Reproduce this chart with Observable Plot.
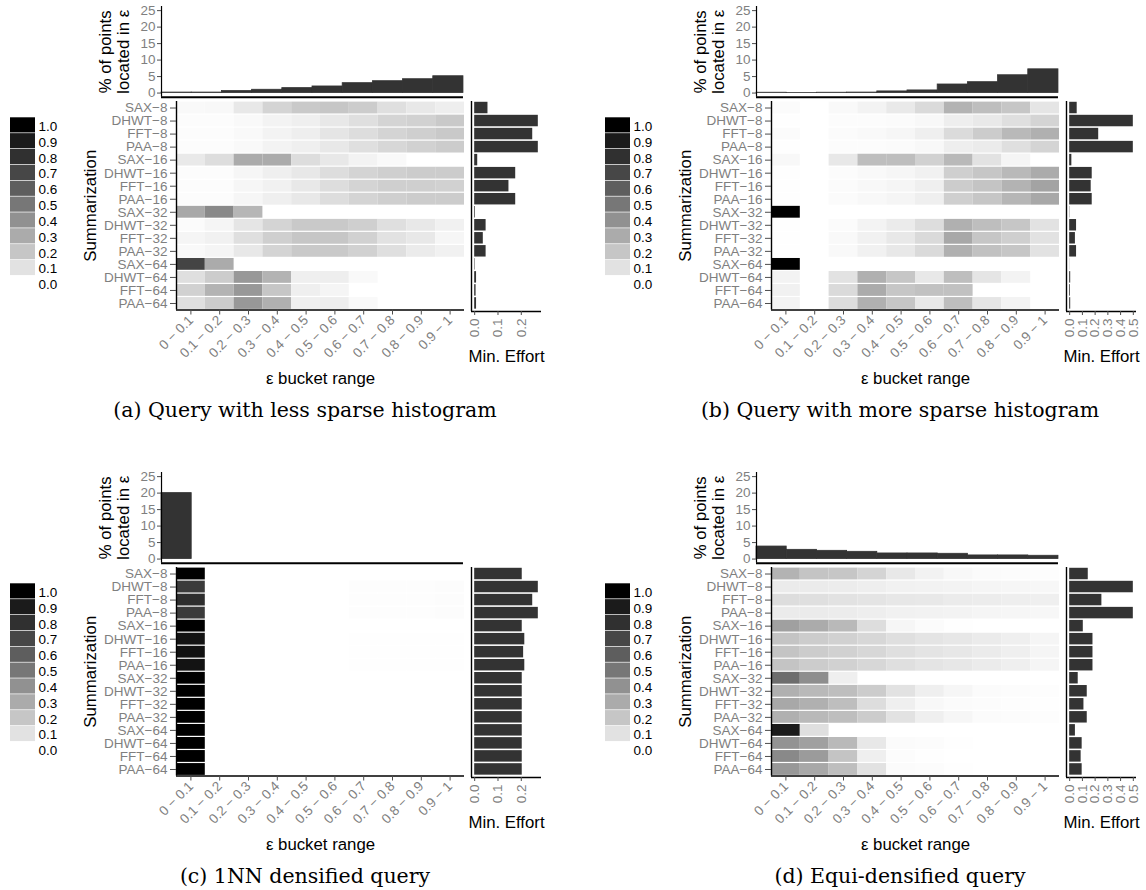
<!DOCTYPE html>
<html>
<head>
<meta charset="utf-8">
<script src="https://cdn.jsdelivr.net/npm/d3@7"></script>
<script src="https://cdn.jsdelivr.net/npm/@observablehq/plot@0.6"></script>
<style>
  html, body { margin: 0; padding: 0; background: #fff; }
  #root { position: relative; width: 1146px; height: 890px; overflow: hidden; background: #fff;
          font-family: "Liberation Sans", Arial, Helvetica, sans-serif; }
  .cap { position: absolute; font-family: "DejaVu Serif", serif; font-size: 20.5px; line-height: 20px;
         white-space: nowrap; transform: translateX(-50%); color: #000; }
</style>
</head>
<body>
<div id="root"></div>
<script>
// ---------- categories / tick labels ----------
const summarizations = ["SAX−8","DHWT−8","FFT−8","PAA−8","SAX−16","DHWT−16","FFT−16","PAA−16",
                        "SAX−32","DHWT−32","FFT−32","PAA−32","SAX−64","DHWT−64","FFT−64","PAA−64"];
const buckets = ["0 − 0.1","0.1 − 0.2","0.2 − 0.3","0.3 − 0.4","0.4 − 0.5",
                 "0.5 − 0.6","0.6 − 0.7","0.7 − 0.8","0.8 − 0.9","0.9 − 1"];
const legendBreaks = [1.0,0.9,0.8,0.7,0.6,0.5,0.4,0.3,0.2,0.1,0.0];
const histTicks = [0,5,10,15,20,25];
const effortTicksSmall = [0,0.1,0.2];
const effortTicksLarge = [0,0.1,0.2,0.3,0.4,0.5];
const captions = ["(a) Query with less sparse histogram","(b) Query with more sparse histogram",
                  "(c) 1NN densified query","(d) Equi-densified query"];
const histTitle = "% of points\nlocated in ε";

// ---------- (a) Query with less sparse histogram ----------
const heatA = [
  [0.02,0.025,0.08,0.15,0.19,0.20,0.18,0.11,0.08,0.06],
  [0.01,0.01,0.02,0.04,0.055,0.08,0.11,0.15,0.16,0.19],
  [0.01,0.01,0.02,0.04,0.06,0.09,0.12,0.15,0.17,0.19],
  [0.01,0.01,0.02,0.04,0.055,0.08,0.11,0.14,0.16,0.18],
  [0.075,0.12,0.30,0.30,0.12,0.08,0.04,0.02,0,0],
  [0.01,0.01,0.03,0.055,0.08,0.12,0.15,0.17,0.18,0.18],
  [0.01,0.01,0.03,0.05,0.08,0.12,0.15,0.17,0.17,0.16],
  [0.01,0.01,0.03,0.055,0.08,0.12,0.15,0.17,0.18,0.18],
  [0.31,0.43,0.26,0,0,0,0,0,0,0],
  [0.015,0.035,0.09,0.15,0.19,0.19,0.17,0.11,0.08,0.05],
  [0.035,0.05,0.11,0.17,0.20,0.20,0.16,0.10,0.08,0.03],
  [0.02,0.035,0.08,0.15,0.19,0.19,0.16,0.11,0.07,0.05],
  [0.71,0.30,0,0,0,0,0,0,0,0],
  [0.11,0.18,0.37,0.27,0.055,0.06,0.02,0,0,0],
  [0.16,0.27,0.37,0.20,0.055,0.035,0,0,0,0],
  [0.11,0.18,0.37,0.28,0.055,0.06,0.02,0,0,0]
];
const histA = [0.15,0.15,0.6,1.0,1.5,2.0,3.0,3.6,4.2,5.1];
const effortA = [0.057,0.273,0.249,0.273,0.013,0.176,0.147,0.176,0.003,0.049,0.037,0.049,0.002,0.008,0.006,0.008];

// ---------- (b) Query with more sparse histogram ----------
const heatB = [
  [0.015,0,0.02,0.04,0.075,0.13,0.27,0.23,0.20,0.09],
  [0.005,0,0.01,0.01,0.015,0.025,0.06,0.075,0.11,0.15],
  [0.015,0,0.015,0.02,0.03,0.055,0.125,0.18,0.25,0.28],
  [0.005,0,0.01,0.01,0.015,0.025,0.06,0.07,0.11,0.15],
  [0.025,0,0.08,0.23,0.23,0.16,0.25,0.10,0.035,0],
  [0.005,0,0.01,0.02,0.03,0.05,0.17,0.20,0.25,0.30],
  [0.005,0,0.015,0.025,0.035,0.055,0.18,0.21,0.27,0.33],
  [0.005,0,0.015,0.025,0.035,0.055,0.17,0.20,0.26,0.31],
  [1,0,0,0,0,0,0,0,0,0],
  [0.005,0,0.015,0.04,0.07,0.12,0.28,0.23,0.20,0.10],
  [0.005,0,0.02,0.05,0.08,0.13,0.31,0.20,0.17,0.10],
  [0.005,0,0.02,0.05,0.08,0.13,0.28,0.22,0.20,0.10],
  [1,0,0,0,0,0,0,0,0,0],
  [0.04,0,0.10,0.28,0.20,0.08,0.23,0.09,0.04,0],
  [0.05,0,0.13,0.30,0.20,0.22,0.22,0,0,0],
  [0.04,0,0.12,0.28,0.20,0.08,0.23,0.09,0.04,0]
];
const histB = [0.1,0.05,0.1,0.15,0.5,0.8,2.6,3.3,5.4,7.2];
const effortB = [0.059,0.5,0.228,0.5,0.017,0.177,0.169,0.177,0.002,0.054,0.045,0.054,0.001,0.008,0.006,0.008];

// ---------- (c) 1NN densified query ----------
const heatC = [
  [1,0,0,0,0,0,0,0,0,0],
  [0.75,0,0,0,0,0,0.006,0.006,0.006,0.012],
  [0.81,0,0,0,0,0,0.006,0.006,0.006,0.012],
  [0.75,0,0,0,0,0,0.006,0.006,0.006,0.012],
  [1,0,0,0,0,0,0,0,0,0],
  [0.94,0,0,0,0,0,0.005,0.005,0.005,0.005],
  [0.95,0,0,0,0,0,0.005,0.005,0.005,0.005],
  [0.94,0,0,0,0,0,0.005,0.005,0.005,0.005],
  [1,0,0,0,0,0,0,0,0,0],
  [1,0,0,0,0,0,0,0,0,0],
  [1,0,0,0,0,0,0,0,0,0],
  [1,0,0,0,0,0,0,0,0,0],
  [1,0,0,0,0,0,0,0,0,0],
  [1,0,0,0,0,0,0,0,0,0],
  [1,0,0,0,0,0,0,0,0,0],
  [1,0,0,0,0,0,0,0,0,0]
];
const histC = [20,0,0,0,0,0,0,0,0,0];
const effortC = [0.204,0.273,0.249,0.273,0.204,0.215,0.21,0.215,0.204,0.204,0.204,0.204,0.204,0.204,0.204,0.204];

// ---------- (d) Equi-densified query ----------
const heatD = [
  [0.27,0.21,0.20,0.15,0.08,0.045,0.025,0.015,0.01,0.008],
  [0.07,0.068,0.065,0.06,0.05,0.045,0.04,0.035,0.03,0.028],
  [0.12,0.11,0.10,0.095,0.085,0.08,0.07,0.065,0.06,0.055],
  [0.07,0.068,0.065,0.06,0.05,0.045,0.04,0.035,0.03,0.028],
  [0.34,0.30,0.25,0.12,0.03,0.015,0.005,0,0,0],
  [0.21,0.18,0.16,0.14,0.11,0.095,0.085,0.07,0.055,0.035],
  [0.21,0.18,0.16,0.14,0.11,0.095,0.085,0.07,0.055,0.035],
  [0.21,0.18,0.16,0.14,0.11,0.095,0.085,0.07,0.055,0.035],
  [0.54,0.41,0.055,0,0,0,0,0,0,0],
  [0.28,0.25,0.23,0.18,0.10,0.055,0.03,0.015,0.01,0.008],
  [0.31,0.28,0.23,0.12,0.055,0.025,0.015,0.01,0.008,0.005],
  [0.28,0.25,0.23,0.18,0.10,0.055,0.03,0.015,0.01,0.008],
  [0.90,0.11,0,0,0,0,0,0,0,0],
  [0.39,0.34,0.25,0.08,0.015,0.01,0.005,0,0,0],
  [0.43,0.36,0.21,0.055,0.01,0.005,0,0,0,0],
  [0.37,0.31,0.23,0.10,0.015,0.01,0.005,0,0,0]
];
const histD = [3.8,2.8,2.5,2.2,1.7,1.7,1.6,1.1,1.1,1.0];
const effortD = [0.146,0.5,0.253,0.5,0.107,0.183,0.183,0.183,0.067,0.138,0.112,0.138,0.045,0.098,0.09,0.098];

// ---------- drawing ----------
const root = document.getElementById("root");
const FONT = "'Liberation Sans', Arial, Helvetica, sans-serif";
const GRAY = "#7f7f7f";
const TICK = "#4d4d4d";
const BAR = "#333333";
const TICKFS = 13.5;
const TITLEFS = 16.8;
const colorScale = {type: "linear", domain: [0, 1], range: ["#ffffff", "#000000"], interpolate: "lab"};

function put(svg, left, top) {
  svg.style.position = "absolute";
  svg.style.left = left + "px";
  svg.style.top = top + "px";
  svg.style.background = "none";
  svg.style.maxWidth = "none";
  svg.style.overflow = "visible";
  svg.style.fontFamily = FONT;
  root.appendChild(svg);
}

function histChart(vals) {
  const data = vals.map((v, i) => ({i, v}));
  return Plot.plot({
    width: 404, height: 98.7, marginLeft: 100, marginRight: 2, marginTop: 6, marginBottom: 2,
    x: {domain: [0, 10], axis: null},
    y: {domain: [-1.25, 26.25]},
    marks: [
      Plot.rectY(data, {x1: "i", x2: d => d.i + 1, y1: 0, y2: "v", fill: BAR, stroke: BAR, strokeWidth: 0.8}),
      Plot.ruleX([0], {stroke: "#000", strokeWidth: 1.2}),
      Plot.ruleY([-1.25], {stroke: "#000", strokeWidth: 2}),
      Plot.axisY(histTicks, {tickSize: 4, tickPadding: 2, fontSize: TICKFS, stroke: TICK, fill: GRAY, label: null}),
      Plot.text([histTitle], {text: d => d, frameAnchor: "left", dx: -47, rotate: -90,
                              textAnchor: "middle", lineAnchor: "middle",
                              fontSize: TITLEFS, lineHeight: 1.08, fill: "#000"})
    ]
  });
}

function heatChart(mat) {
  const cells = [];
  mat.forEach((row, r) => row.forEach((v, c) => { if (v > 0) cells.push({r, c, v}); }));
  const rowTicks = summarizations.map((_, r) => r + 0.5);
  const colTicks = buckets.map((_, c) => c + 0.5);
  return Plot.plot({
    width: 398, height: 318.5, marginLeft: 100, marginRight: 10, marginTop: 10, marginBottom: 100,
    x: {domain: [0, 10]},
    y: {domain: [16, 0]},
    color: colorScale,
    marks: [
      Plot.rect(cells, {x1: "c", x2: d => d.c + 1, y1: "r", y2: d => d.r + 1, fill: "v",
                        insetTop: 0.6, insetBottom: 0.6}),
      Plot.ruleX([0], {stroke: "#000", strokeWidth: 1.4}),
      Plot.ruleY([16], {stroke: "#000", strokeWidth: 1.4}),
      Plot.axisY(rowTicks, {tickFormat: d => summarizations[Math.floor(d)], tickSize: 6, tickPadding: 3,
                            fontSize: TICKFS, stroke: TICK, fill: GRAY, label: null}),
      Plot.axisX(colTicks, {tickFormat: d => buckets[Math.floor(d)], tickSize: 5, tickPadding: 3,
                            tickRotate: -45, fontSize: TICKFS, stroke: TICK, fill: GRAY, label: null}),
      Plot.text(["Summarization"], {text: d => d, frameAnchor: "left", dx: -86, rotate: -90,
                                    textAnchor: "middle", lineAnchor: "middle",
                                    fontSize: TITLEFS, fill: "#000"}),
      Plot.text(["ε bucket range"], {text: d => d, frameAnchor: "bottom", dy: 68.5,
                                     textAnchor: "middle", lineAnchor: "middle",
                                     fontSize: TITLEFS, fill: "#000"})
    ]
  });
}

function effortChart(vals, ticks) {
  const max = d3.max(vals);
  const lo = -0.05 * max, hi = 1.05 * max;
  const data = vals.map((v, r) => ({r, v}));
  return Plot.plot({
    width: 90, height: 280, marginLeft: 10, marginRight: 10, marginTop: 10, marginBottom: 60,
    x: {domain: [lo, hi]},
    y: {domain: [16.12, 0], axis: null},
    marks: [
      Plot.rect(data, {x1: 0, x2: "v", y1: d => d.r + 0.06, y2: d => d.r + 0.94, fill: BAR}),
      Plot.ruleX([lo], {stroke: "#000", strokeWidth: 1.4}),
      Plot.ruleY([16.12], {stroke: "#000", strokeWidth: 1.4}),
      Plot.axisX(ticks, {tickFormat: d3.format(".1f"), tickSize: 4, tickPadding: 3, tickRotate: -90,
                         fontSize: TICKFS, stroke: TICK, fill: GRAY, label: null}),
      Plot.text(["Min. Effort"], {text: d => d, frameAnchor: "bottom", dy: 45.5,
                                  textAnchor: "middle", lineAnchor: "middle",
                                  fontSize: TITLEFS, fill: "#000"})
    ]
  });
}

function legendChart() {
  const data = legendBreaks.map((b, i) => ({i, b}));
  return Plot.plot({
    width: 75, height: 186.65, marginLeft: 10, marginRight: 40, marginTop: 7.3, marginBottom: 5,
    x: {domain: [0, 1], axis: null},
    y: {domain: [11, 0], axis: null},
    color: colorScale,
    marks: [
      Plot.rect(data, {x1: 0, x2: 1, y1: "i", y2: d => d.i + 1, fill: "b", insetBottom: 0.7}),
      Plot.text(data, {x: 1, y: d => d.i + 0.55, text: d => d.b.toFixed(1), textAnchor: "start",
                       dx: 3, fontSize: TICKFS, fill: "#000"})
    ]
  });
}

function panel(ox, oy, heat, hist, effort, ticks, caption) {
  put(legendChart(), ox, oy + 110);
  put(histChart(hist), ox + 61, oy);
  put(heatChart(heat), ox + 76, oy + 91);
  put(effortChart(effort, ticks), ox + 460.7, oy + 91);
  const cap = document.createElement("div");
  cap.className = "cap";
  cap.textContent = caption;
  cap.style.left = (ox + 305) + "px";
  cap.style.top = (oy + 400) + "px";
  root.appendChild(cap);
}

panel(0, 0, heatA, histA, effortA, effortTicksSmall, captions[0]);
panel(595, 0, heatB, histB, effortB, effortTicksLarge, captions[1]);
panel(0, 466, heatC, histC, effortC, effortTicksSmall, captions[2]);
panel(595, 466, heatD, histD, effortD, effortTicksLarge, captions[3]);
</script>
</body>
</html>
